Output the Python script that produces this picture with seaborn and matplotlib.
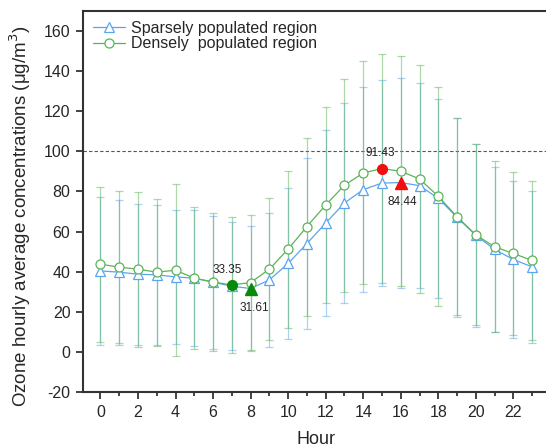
import numpy as np
import pandas as pd
import matplotlib
matplotlib.use("Agg")
import matplotlib.pyplot as plt
import seaborn as sns
from matplotlib.ticker import MultipleLocator

hours = list(range(24))

sparse_mean = [40.4, 39.75, 38.75, 38.4, 37.4, 36.75, 34.75, 32.75, 31.61, 35.9,
               44.1, 54.0, 64.25, 74.25, 80.9, 84.2, 84.44, 82.9, 76.6, 67.1,
               58.1, 51.1, 46.1, 42.4]
sparse_sd = [36.8, 36.25, 35.25, 35.1, 33.5, 33.9, 33.1, 31.9, 31.15, 33.4,
             37.85, 42.5, 46.35, 49.7, 51.2, 51.4, 52.35, 51.2, 49.6, 49.65,
             45.6, 41.3, 39.0, 37.75]

dense_mean = [43.75, 42.25, 41.25, 39.75, 40.75, 36.75, 34.9, 33.35, 34.6, 41.25,
              51.25, 62.5, 73.25, 83.1, 89.25, 91.43, 90.1, 86.25, 77.6, 67.4,
              58.4, 52.4, 49.1, 45.6]
dense_sd = [38.7, 38.0, 38.7, 36.7, 42.8, 35.5, 34.5, 33.9, 33.75, 35.5,
            39.15, 44.35, 48.75, 53.0, 55.6, 57.2, 57.25, 56.75, 54.5, 49.15,
            45.1, 42.6, 40.65, 39.5]

series_names = ["Sparsely populated region", "Densely  populated region"]

sns.set_style("ticks")
plt.rcParams["font.family"] = ["Liberation Sans", "DejaVu Sans"]
plt.rcParams["axes.unicode_minus"] = False

df = pd.DataFrame({
    "Hour": hours * 2,
    "value": sparse_mean + dense_mean,
    "sd": sparse_sd + dense_sd,
    "region": [series_names[0]] * 24 + [series_names[1]] * 24,
})

blue = "#5aa5f0"
green = "#5cb357"

fig = plt.figure(figsize=(5.46, 4.48), dpi=100)
ax = fig.add_axes([0.152, 0.125, 0.8535, 0.8504])

# standard deviation whiskers
for name, col in zip(series_names, [blue, green]):
    sub = df[df["region"] == name]
    ax.errorbar(sub["Hour"], sub["value"], yerr=sub["sd"], fmt="none",
                ecolor=col, elinewidth=0.9, capsize=3, capthick=0.9,
                alpha=0.5, zorder=1)

ax.axhline(100, color="#555555", lw=0.8, ls=(0, (3, 2)), zorder=0)

sns.lineplot(data=df[df["region"] == series_names[0]], x="Hour", y="value",
             color=blue, marker="^", markersize=7, mfc="white", mec=blue,
             mew=0.9, lw=0.9, label=series_names[0], ax=ax, zorder=3)
sns.lineplot(data=df[df["region"] == series_names[1]], x="Hour", y="value",
             color=green, marker="o", markersize=6.5, mfc="white", mec=green,
             mew=0.9, lw=0.9, label=series_names[1], ax=ax, zorder=3)

# extreme values
i_dmin = int(np.argmin(dense_mean))
i_smin = int(np.argmin(sparse_mean))
i_dmax = int(np.argmax(dense_mean))
i_smax = int(np.argmax(sparse_mean))
ax.plot(hours[i_dmin], dense_mean[i_dmin], "o", color="#0a8a0a", ms=7, zorder=4)
ax.plot(hours[i_smin], sparse_mean[i_smin], "^", color="#0a8a0a", ms=8, zorder=4)
ax.plot(hours[i_dmax], dense_mean[i_dmax], "o", color="#f01010", ms=7, zorder=4)
ax.plot(hours[i_smax], sparse_mean[i_smax], "^", color="#f01010", ms=8, zorder=4)

ax.annotate(f"{dense_mean[i_dmin]:.2f}", (hours[i_dmin], dense_mean[i_dmin]),
            xytext=(-3, 9), textcoords="offset points", ha="center",
            fontsize=8.5, color="#222222")
ax.annotate(f"{sparse_mean[i_smin]:.2f}", (hours[i_smin], sparse_mean[i_smin]),
            xytext=(3, -16), textcoords="offset points", ha="center",
            fontsize=8.5, color="#222222")
ax.annotate(f"{dense_mean[i_dmax]:.2f}", (hours[i_dmax], dense_mean[i_dmax]),
            xytext=(-1, 9), textcoords="offset points", ha="center",
            fontsize=8.5, color="#222222")
ax.annotate(f"{sparse_mean[i_smax]:.2f}", (hours[i_smax], sparse_mean[i_smax]),
            xytext=(1, -16), textcoords="offset points", ha="center",
            fontsize=8.5, color="#222222")

ax.set_xlim(-0.93, 23.9)
ax.set_ylim(-20, 170)
ax.xaxis.set_major_locator(MultipleLocator(2))
ax.xaxis.set_minor_locator(MultipleLocator(1))
ax.yaxis.set_major_locator(MultipleLocator(20))
ax.tick_params(axis="both", which="major", direction="out", length=5,
               width=1.2, labelsize=11.5, color="#222222", pad=4)
ax.tick_params(axis="x", which="minor", direction="out", length=3, width=1.2,
               color="#222222")
for side in ["left", "bottom", "top"]:
    ax.spines[side].set_linewidth(1.5)
    ax.spines[side].set_color("#333333")
ax.spines["right"].set_visible(False)

ax.set_xlabel("Hour", fontsize=13, labelpad=8)
ax.set_ylabel("Ozone hourly average concentrations (\u03bcg/m$^3$)",
              fontsize=13.5)
ax.yaxis.set_label_coords(-0.108, 0.462)

ax.legend(loc="upper left", frameon=False, fontsize=11.5, handlelength=2.0,
          handletextpad=0.4, borderaxespad=0.2, labelspacing=0.05,
          bbox_to_anchor=(0.0, 1.0))

fig.savefig("out.png", dpi=100)
